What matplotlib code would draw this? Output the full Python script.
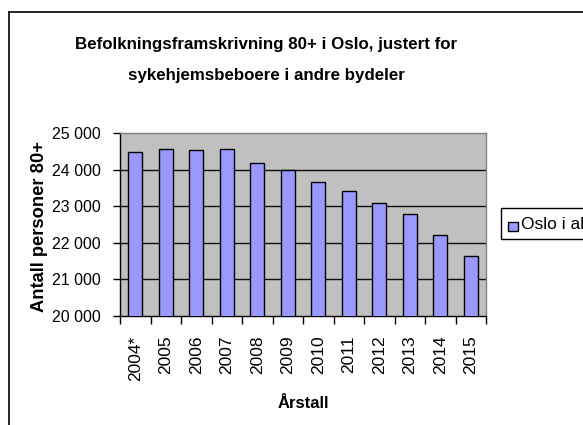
import matplotlib
matplotlib.use("Agg")
import matplotlib.pyplot as plt
from matplotlib.lines import Line2D
from matplotlib.patches import Rectangle

years = ["2004*", "2005", "2006", "2007", "2008", "2009", "2010", "2011",
         "2012", "2013", "2014", "2015"]
values = [24490, 24570, 24535, 24570, 24170, 24000, 23670, 23425,
          23095, 22795, 22220, 21650]
yticks = [20000, 21000, 22000, 23000, 24000, 25000]
ytick_labels = ["20 000", "21 000", "22 000", "23 000", "24 000", "25 000"]
series_name = "Oslo i alt"
title_lines = ["Befolkningsframskrivning 80+ i Oslo, justert for",
               "sykehjemsbeboere i andre bydeler"]

plt.rcParams['font.family'] = ['Liberation Sans', 'DejaVu Sans']

W, H = 583, 425
fig = plt.figure(figsize=(W / 100, H / 100), dpi=100)
fig.patch.set_facecolor("white")

# chart area border (only left and top visible, rest cropped)
fig.add_artist(Line2D([9 / W, 9 / W], [0, 1 - 12 / H], color="black", lw=1.2,
                      transform=fig.transFigure))
fig.add_artist(Line2D([9 / W, 1.0], [1 - 12 / H, 1 - 12 / H], color="black", lw=1.2,
                      transform=fig.transFigure))

left, right, top, bottom = 120, 486, 133, 316
ax = fig.add_axes([left / W, 1 - bottom / H, (right - left) / W, (bottom - top) / H])
ax.set_facecolor("#C0C0C0")

x = list(range(len(years)))
bars = ax.bar(x, values, width=0.45, color="#9999FF", edgecolor="black",
              linewidth=1.0, zorder=3, label=series_name)

ax.set_ylim(20000, 25000)
ax.set_xlim(-0.5, len(years) - 0.5)
ax.set_yticks(yticks)
ax.set_yticklabels(ytick_labels, fontsize=11.5)
for yv in yticks[1:-1]:
    ax.axhline(yv, color="#101010", lw=1.0, zorder=1)

# x ticks between categories
ax.set_xticks([i - 0.5 for i in range(len(years) + 1)])
ax.set_xticklabels([])
ax.set_xticks(x, minor=True)
ax.set_xticklabels(years, minor=True, rotation=90, fontsize=12.5)
ax.tick_params(axis="x", which="minor", length=0, pad=14)
ax.tick_params(axis="x", which="major", length=6, width=1, color="black", direction="out")
ax.tick_params(axis="y", length=5, width=1, color="black", direction="out", pad=9)

for s in ["top", "right"]:
    ax.spines[s].set_color("#808080")
    ax.spines[s].set_linewidth(1.0)
for s in ["left", "bottom"]:
    ax.spines[s].set_color("black")
    ax.spines[s].set_linewidth(1.0)

# titles
fig.text(266 / W, 1 - 49 / H, title_lines[0], ha="center", va="baseline",
         fontsize=12.2, fontweight="bold")
fig.text(266 / W, 1 - 80 / H, title_lines[1], ha="center", va="baseline",
         fontsize=12.2, fontweight="bold")

fig.text(303 / W, 1 - 408 / H, "Årstall", ha="center", va="baseline",
         fontsize=12, fontweight="bold")
fig.text(40 / W, 1 - 227 / H, "Antall personer 80+", ha="center", va="center",
         rotation=90, fontsize=13.2, fontweight="bold")

# legend (cropped on the right, as in the reference)
lx0, ly0, ly1 = 501, 208, 239
fig.add_artist(Rectangle((lx0 / W, 1 - ly1 / H), (W + 50 - lx0) / W, (ly1 - ly0) / H,
                         transform=fig.transFigure, facecolor="white",
                         edgecolor="black", lw=1.0, clip_on=False))
fig.add_artist(Rectangle((508 / W, 1 - 231 / H), 10 / W, 9.5 / H,
                         transform=fig.transFigure, facecolor="#9999FF",
                         edgecolor="black", lw=1.0))
fig.text(521 / W, 1 - 224 / H, series_name, ha="left", va="center", fontsize=12.5)

fig.savefig("out.png", dpi=100, facecolor="white")
